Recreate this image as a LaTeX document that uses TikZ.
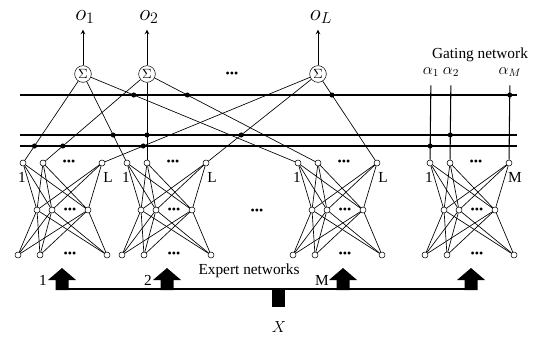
\documentclass[tikz,border=0pt]{standalone}
\usepackage{fontspec}
\setmainfont{Liberation Serif}
\usetikzlibrary{arrows}
\colorlet{netcol}{black}
\tikzstyle{unit}=[circle,draw=netcol,fill=white,inner sep=0pt,minimum size=4.5pt]
\tikzstyle{sum}=[circle,draw=netcol,fill=white,inner sep=0pt,minimum size=12.5pt,font=\normalsize]
\tikzstyle{wire}=[netcol,line width=0.5pt]
\tikzstyle{bus}=[netcol,line width=0.8pt]
\tikzstyle{mult}=[circle,fill=netcol,inner sep=0pt,minimum size=3.8pt]
\tikzstyle{etc}=[inner sep=0pt,font=\fontsize{9}{9}\selectfont]
\tikzset{feed/.pic={\fill (-6.5,22) -- (-6.5,12) -- (-14,12) -- (0,0) -- (14,12) -- (6.5,12) -- (6.5,22) -- cycle;}}

\begin{document}
\begin{tikzpicture}[x=0.75pt,y=-0.75pt,font=\fontsize{11.5}{13}\selectfont]
  \useasboundingbox (0,0) rectangle (541,336);
  % Expert networks and gating network
  \foreach \n/\x/\last in {a/23/L,b/127/L,m/298/L,g/430/M} {
    \node[unit] (\n-t1) at (\x,163) {};
    \node[unit] (\n-t2) at (\x+20,163) {};
    \node[unit] (\n-t3) at (\x+79,163) {};
    \node[unit] (\n-h1) at (\x+14,210) {};
    \node[unit] (\n-h2) at (\x+29,210) {};
    \node[unit] (\n-h3) at (\x+65,210) {};
    \node[unit] (\n-b1) at (\x-5,255) {};
    \node[unit] (\n-b2) at (\x+17,255) {};
    \node[unit] (\n-b3) at (\x+84,255) {};
    \node[etc] (\n-dt) at (\x+46,163) {\textbullet\textbullet\textbullet};
    \node[etc] (\n-dh) at (\x+47,211) {\textbullet\textbullet\textbullet};
    \node[etc] (\n-db) at (\x+47,255) {\textbullet\textbullet\textbullet};
    \node (\n-first) at (\x-1,177) {1};
    \node (\n-last) at (\x+85,177) {\last};
    \foreach \i in {1,2,3}
      \foreach \j in {1,2,3} {
        \draw[wire] (\n-t\i) -- (\n-h\j);
        \draw[wire] (\n-h\i) -- (\n-b\j);
      }
  }
  \node[etc] (edots) at (257,212) {\textbullet\textbullet\textbullet};

  % Weighting lines
  \coordinate (w1) at (20,95);  \coordinate (e1) at (517,95);
  \coordinate (w2) at (20,135); \coordinate (e2) at (517,135);
  \coordinate (w3) at (20,146); \coordinate (e3) at (517,146);
  \draw[bus] (w1) -- (e1);
  \draw[bus] (w2) -- (e2);
  \draw[bus] (w3) -- (e3);

  % Outputs
  \node[sum] (s1) at (83,74) {$\Sigma$};
  \node[sum] (s2) at (147,74) {$\Sigma$};
  \node[sum] (s3) at (318,74) {$\Sigma$};
  \node[etc] (sdots) at (232,75) {\textbullet\textbullet\textbullet};
  \node[font=\LARGE] (o1) at (85,17) {$o_1$};
  \node[font=\LARGE] (o2) at (149,17) {$o_2$};
  \node[font=\LARGE] (o3) at (321,17) {$o_L$};
  \foreach \k in {1,2,3} {
    \draw[wire,-stealth,shorten >=1pt] (s\k) -- (o\k.south -| s\k);
    \foreach \n/\l in {a/3,b/2,m/1} {
      \draw[wire] (s\k) -- (\n-t\k);
      \node[mult] at (intersection cs: first line={(s\k)--(\n-t\k)}, second line={(w\l)--(e\l)}) {};
    }
  }

  % Gating outputs
  \node (gtext) at (480,55) {Gating network};
  \node (al1) at (431,72) {$\alpha_1$};
  \node (al2) at (451,72) {$\alpha_2$};
  \node (al3) at (510,72) {$\alpha_M$};
  \foreach \k/\l in {1/3,2/2,3/1} {
    \draw[bus,shorten <=3pt] (al\k) -- (g-t\k);
    \node[mult] at (intersection cs: first line={(al\k)--(g-t\k)}, second line={(w\l)--(e\l)}) {};
  }

  % Input
  \node (etext) at (249,271) {Expert networks};
  \coordinate (in1) at (62,289);
  \coordinate (in4) at (471,289);
  \coordinate (stem) at (278.5,289);
  \node[font=\large] (x) at (279,327) {$X$};
  \foreach \i/\x in {1/62,2/167,3/343,4/471}
    \pic (f\i) at (\x,268) {feed};
  \draw[netcol,line width=2pt] (in1) -- (in4);
  \draw[netcol,line width=9.5pt] (stem) -- ++(0,18);
  \node (l1) at (43,280) {1};
  \node (l2) at (148,280) {2};
  \node (l3) at (322,280) {M};
\end{tikzpicture}
\end{document}
